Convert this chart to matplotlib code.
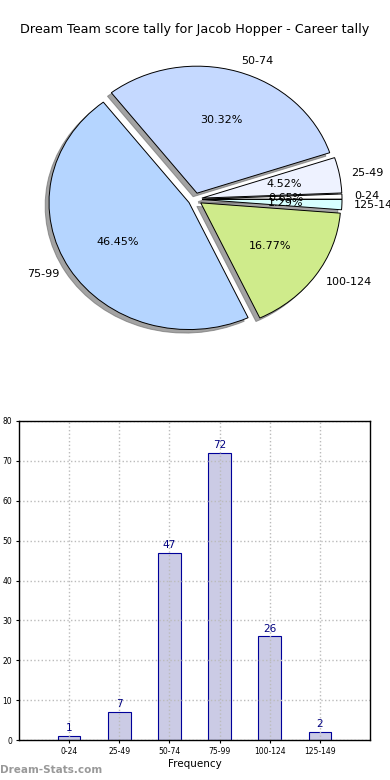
import matplotlib
matplotlib.use("Agg")
import matplotlib.pyplot as plt

categories = ["0-24", "25-49", "50-74", "75-99", "100-124", "125-149"]
counts = [1, 7, 47, 72, 26, 2]
pie_colors = ["#ffffff", "#eef2ff", "#c5d9ff", "#b5d5ff", "#cfeb8b", "#d6ffff"]
title = "Dream Team score tally for Jacob Hopper - Career tally"
yticks = [0, 10, 20, 30, 40, 50, 60, 70, 80]

fig = plt.figure(figsize=(3.9, 7.8), dpi=100)
fig.text(0.5, 1 - 30 / 780, title, ha="center", va="center", fontsize=9.2)

# Pie
axp = fig.add_axes([20 / 390, 1 - 358 / 780, 350 / 390, 317.5 / 780])
wedges, texts, autotexts = axp.pie(
    counts, labels=categories, colors=pie_colors, autopct="%1.2f%%",
    startangle=0, explode=[0.05] * len(counts),
    shadow=dict(ox=-0.02, oy=-0.02, facecolor="#666666",
                edgecolor="#666666", alpha=0.6),
    labeldistance=1.085,
    wedgeprops=dict(edgecolor="black", linewidth=0.7),
    textprops=dict(fontsize=8))
axp.set_aspect("auto")
axp.set_xlim(-1.25, 1.25)
axp.set_ylim(-1.25, 1.25)
for t in texts:
    t.set_clip_on(False)

# Bars
axb = fig.add_axes([19 / 390, 40 / 780, 351 / 390, 319 / 780])
x = list(range(len(categories)))
bars = axb.bar(x, counts, width=0.45, color="#cbcbe5", edgecolor="#000099",
               linewidth=0.8)
for xi, v in zip(x, counts):
    axb.text(xi, v + 0.7, str(v), ha="center", va="bottom", fontsize=7.5,
             color="#000080")
axb.set_xlim(-1, 6)
axb.set_ylim(0, 80)
axb.set_xticks(x)
axb.set_xticklabels(categories, fontsize=5.5)
axb.set_yticks(yticks)
axb.set_yticklabels([str(v) for v in yticks], fontsize=5.5)
axb.tick_params(length=2, pad=3)
axb.set_xlabel("Frequency", fontsize=7.5, labelpad=2)
axb.set_axisbelow(False)
axb.grid(True, linestyle=":", color="#bbbbbb", linewidth=1.0, zorder=2)
for s in axb.spines.values():
    s.set_linewidth(1.0)
    s.set_zorder(3)

fig.text(0.0, 1 - 770 / 780, "Dream-Stats.com", fontsize=7.5, color="#999999",
         fontweight="bold", ha="left", va="center")

fig.savefig("out.png", dpi=100)
